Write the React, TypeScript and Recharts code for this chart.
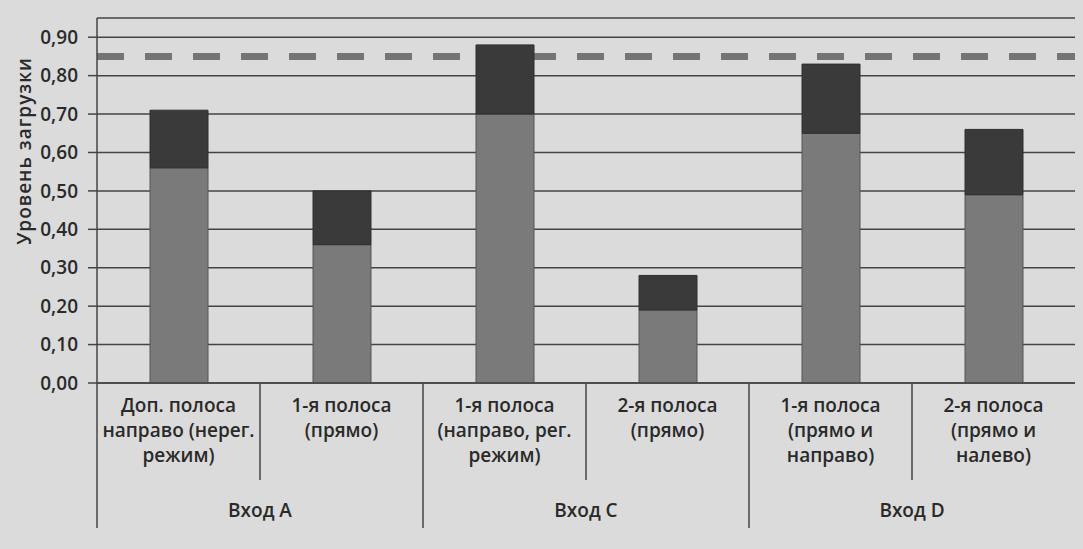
import { ComposedChart, Bar, XAxis, YAxis, CartesianGrid, Label } from "recharts";

// подписи категорий (по строкам), группы входов
const CATEGORY_LINES = [
  ["Доп. полоса", "направо (нерег.", "режим)"],
  ["1-я полоса", "(прямо)"],
  ["1-я полоса", "(направо, рег.", "режим)"],
  ["2-я полоса", "(прямо)"],
  ["1-я полоса", "(прямо и", "направо)"],
  ["2-я полоса", "(прямо и", "налево)"],
];
const GROUPS = ["Вход A", "Вход C", "Вход D"];
const GROUP_SIZE = 2;

// уровень загрузки: нижняя часть столбца и верхняя надбавка
const BASE_LOAD = [0.56, 0.36, 0.7, 0.19, 0.65, 0.49];
const EXTRA_LOAD = [0.15, 0.14, 0.18, 0.09, 0.18, 0.17];
const LOAD_LIMIT = 0.85;
const Y_TICKS = [0, 0.1, 0.2, 0.3, 0.4, 0.5, 0.6, 0.7, 0.8, 0.9];

const WIDTH = 1083;
const HEIGHT = 549;
const MARGIN = { top: 18, right: 8, left: 0, bottom: 0 };
const Y_AXIS_WIDTH = 97;
const BAND = (WIDTH - MARGIN.left - MARGIN.right - Y_AXIS_WIDTH) / CATEGORY_LINES.length;

const FONT = "'Open Sans', sans-serif";
const TEXT = "#2a2a2a";
const INK = "#444444";

const data = CATEGORY_LINES.map((lines, i) => ({
  name: lines.join(" "),
  base: BASE_LOAD[i],
  extra: EXTRA_LOAD[i],
}));

function CategoryTick(props: any) {
  const { x, y, index } = props;
  const lines = CATEGORY_LINES[index];
  const left = x - BAND / 2;
  const groupStart = index % GROUP_SIZE === 0;
  return (
    <g>
      <line x1={left} x2={left} y1={y} y2={groupStart ? y + 145 : y + 97} stroke={INK} strokeWidth={1.5} />
      <text x={x} y={y + 29} textAnchor="middle" fontFamily={FONT} fontSize={19} fontWeight={600} fill={TEXT}>
        {lines.map((l, i) => (
          <tspan key={i} x={x} dy={i === 0 ? 0 : 25}>
            {l}
          </tspan>
        ))}
      </text>
      {groupStart && (
        <text x={x + BAND / 2} y={y + 134} textAnchor="middle" fontFamily={FONT} fontSize={19} fontWeight={600} fill={TEXT}>
          {GROUPS[index / GROUP_SIZE]}
        </text>
      )}
    </g>
  );
}

export default function App() {
  return (
    <div style={{ position: "absolute", left: 0, top: 0, width: WIDTH, height: HEIGHT, background: "#dbdbdb" }}>
      <ComposedChart width={WIDTH} height={HEIGHT} data={data} margin={MARGIN}>
        <CartesianGrid vertical={false} stroke={INK} strokeWidth={1.5} />
        {/* пороговый уровень — позади столбцов */}
        <CartesianGrid
          vertical={false}
          horizontalValues={[LOAD_LIMIT]}
          stroke="#747474"
          strokeWidth={7}
          strokeDasharray="27 21"
        />
        <XAxis
          dataKey="name"
          interval={0}
          height={HEIGHT - 383}
          tickSize={0}
          tickMargin={0}
          tickLine={false}
          axisLine={{ stroke: INK, strokeWidth: 1.5 }}
          tick={<CategoryTick />}
        />
        <YAxis
          width={Y_AXIS_WIDTH}
          domain={[0, 0.95]}
          ticks={Y_TICKS}
          tickFormatter={(v: number) => v.toFixed(2).replace(".", ",")}
          tick={{ fontSize: 19, fill: TEXT, fontFamily: FONT, fontWeight: 600 }}
          tickSize={9}
          tickMargin={10}
          tickLine={{ stroke: INK, strokeWidth: 1.5 }}
          axisLine={{ stroke: INK, strokeWidth: 1.5 }}
        >
          <Label
            content={() => (
              <text
                x={24}
                y={151}
                transform="rotate(-90 24 151)"
                textAnchor="middle"
                dominantBaseline="central"
                fontFamily={FONT}
                fontSize={19}
                fontWeight={600}
                letterSpacing={1}
                fill={TEXT}
              >
                Уровень загрузки
              </text>
            )}
          />
        </YAxis>
        <Bar dataKey="base" stackId="load" fill="#7a7a7a" stroke="#555555" barSize={58} isAnimationActive={false} />
        <Bar dataKey="extra" stackId="load" fill="#3a3a3a" stroke="#2e2e2e" barSize={58} isAnimationActive={false} />
      </ComposedChart>
    </div>
  );
}
